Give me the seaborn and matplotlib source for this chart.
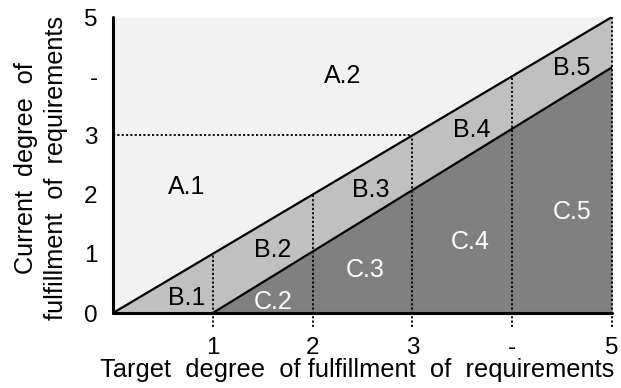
import matplotlib
matplotlib.use("Agg")
import matplotlib.pyplot as plt
import seaborn as sns
import numpy as np
import pandas as pd

# ---- data ----
upper_x = [0.0, 5.0]
upper_y = [0.0, 5.0]
lower_x = [1.0, 5.0]
lower_y = [0.0, 4.15]
grid_x = [1, 2, 3, 4, 5]
h_ref_x = [0, 3]
h_ref_y = [3, 3]
xtick_pos = [1, 2, 3, 4, 5]
xtick_labels = ["1", "2", "3", "-", "5"]
ytick_pos = [0, 1, 2, 3, 4, 5]
ytick_labels = ["0", "1", "2", "3", "-", "5"]
region_labels = ["A.1", "A.2", "B.1", "B.2", "B.3", "B.4", "B.5", "C.2", "C.3", "C.4", "C.5"]
region_x = [0.74, 2.3, 0.74, 1.6, 2.58, 3.59, 4.6, 1.6, 2.53, 3.58, 4.6]
region_y = [2.13, 4.0, 0.25, 1.06, 2.08, 3.09, 4.14, 0.19, 0.73, 1.2, 1.71]

sns.set_theme(style="white")
plt.rcParams["font.family"] = ["Liberation Sans", "DejaVu Sans"]

fig = plt.figure(figsize=(6.21, 3.88), dpi=100)
ax = fig.add_axes([113 / 621, (388 - 313) / 388, (612 - 113) / 621, (313 - 17) / 388])

col_a, col_b, col_c = "#f2f2f2", "#c0c0c0", "#808080"

xs = np.linspace(0, 5, 501)
up = np.interp(xs, upper_x, upper_y)
lo = np.interp(xs, lower_x, lower_y, left=0.0)
ax.fill_between(xs, up, 5, color=col_a, lw=0)
ax.fill_between(xs, lo, up, color=col_b, lw=0)
ax.fill_between(xs, 0, lo, color=col_c, lw=0)

# dotted reference lines
for gx in grid_x:
    top = np.interp(gx, upper_x, upper_y)
    ax.plot([gx, gx], [-0.24, top], color="black", lw=1.3, ls=(0, (1.2, 1.2)), clip_on=False, zorder=3)
ax.plot(h_ref_x, h_ref_y, color="black", lw=1.3, ls=(0, (1.2, 1.2)), zorder=3)

# boundary lines
sns.lineplot(x=upper_x, y=upper_y, ax=ax, color="black", lw=1.6, zorder=4)
sns.lineplot(x=lower_x, y=lower_y, ax=ax, color="black", lw=1.6, zorder=4)

# axes lines
ax.plot([0, 0], [0, 5], color="black", lw=2.2, clip_on=False, zorder=5)
ax.plot([0, 5], [0, 0], color="black", lw=2.2, clip_on=False, zorder=5)

for lab, x, y in zip(region_labels, region_x, region_y):
    ax.text(x, y, lab, ha="center", va="center", fontsize=18,
            color="white" if lab.startswith("C") else "black", zorder=6)

ax.set_xlim(0, 5)
ax.set_ylim(0, 5)
for s in ax.spines.values():
    s.set_visible(False)
ax.set_xticks(xtick_pos)
ax.set_xticklabels(xtick_labels, fontsize=17.5)
ax.set_yticks(ytick_pos)
ax.set_yticklabels(ytick_labels, fontsize=17.5)
ax.tick_params(axis="both", length=0, colors="black")
ax.tick_params(axis="x", pad=17)
ax.tick_params(axis="y", pad=11)
ax.set_xlabel("Target  degree  of fulfillment  of  requirements", fontsize=18.4, color="black")
ax.xaxis.label.set_va("top")
ax.xaxis.set_label_coords(0.49, -0.152)
ax.set_ylabel("Current  degree  of\nfulfillment  of  requirements", fontsize=18.2, color="black",
              linespacing=1.28)
ax.yaxis.label.set_rotation_mode("default")
ax.yaxis.label.set_va("center")
ax.yaxis.label.set_ha("center")
ax.yaxis.set_label_coords((41 - 113) / 499, 0.49)

fig.savefig("out.png", dpi=100)
